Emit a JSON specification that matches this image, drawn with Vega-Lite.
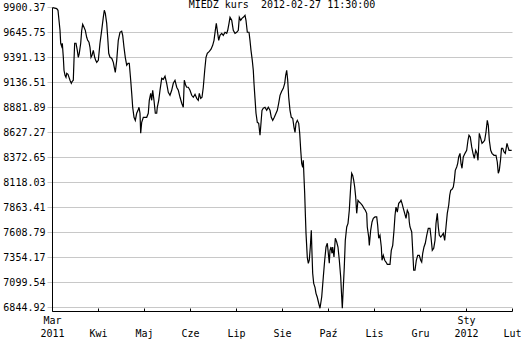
{
  "$schema": "https://vega.github.io/schema/vega-lite/v6.json",
  "width": 460,
  "height": 304,
  "autosize": {"type": "none"},
  "padding": {"left": 52, "top": 7, "right": 9, "bottom": 31},
  "background": "white",
  "title": {
    "text": "MIEDZ kurs \u00a02012-02-27 11:30:00",
    "font": "DejaVu Sans Mono",
    "fontSize": 10,
    "fontWeight": "normal",
    "color": "black",
    "anchor": "middle",
    "baseline": "alphabetic",
    "offset": -16
  },
  "config": {
    "view": {"stroke": null},
    "axis": {"labelFont": "DejaVu Sans Mono", "labelFontSize": 10, "labelColor": "black", "titleFont": "DejaVu Sans Mono"}
  },
  "data": {
    "values": [
      {"t": 0.015, "v": 9894}, {"t": 0.102, "v": 9884}, {"t": 0.130, "v": 9867}, {"t": 0.174, "v": 9663},
      {"t": 0.189, "v": 9531}, {"t": 0.211, "v": 9500}, {"t": 0.224, "v": 9531}, {"t": 0.246, "v": 9388},
      {"t": 0.261, "v": 9256}, {"t": 0.283, "v": 9205}, {"t": 0.304, "v": 9184}, {"t": 0.320, "v": 9225},
      {"t": 0.348, "v": 9215}, {"t": 0.370, "v": 9184}, {"t": 0.391, "v": 9154}, {"t": 0.420, "v": 9123},
      {"t": 0.441, "v": 9144}, {"t": 0.463, "v": 9154}, {"t": 0.478, "v": 9357}, {"t": 0.493, "v": 9531},
      {"t": 0.522, "v": 9531}, {"t": 0.550, "v": 9459}, {"t": 0.572, "v": 9388}, {"t": 0.593, "v": 9429},
      {"t": 0.624, "v": 9531}, {"t": 0.646, "v": 9663}, {"t": 0.667, "v": 9724}, {"t": 0.696, "v": 9694},
      {"t": 0.724, "v": 9663}, {"t": 0.754, "v": 9592}, {"t": 0.776, "v": 9561}, {"t": 0.804, "v": 9541},
      {"t": 0.826, "v": 9490}, {"t": 0.848, "v": 9388}, {"t": 0.870, "v": 9408}, {"t": 0.898, "v": 9459},
      {"t": 0.928, "v": 9388}, {"t": 0.950, "v": 9357}, {"t": 0.972, "v": 9337}, {"t": 1.007, "v": 9357},
      {"t": 1.043, "v": 9531}, {"t": 1.080, "v": 9663}, {"t": 1.115, "v": 9795}, {"t": 1.137, "v": 9867},
      {"t": 1.159, "v": 9836}, {"t": 1.189, "v": 9734}, {"t": 1.211, "v": 9592}, {"t": 1.233, "v": 9429},
      {"t": 1.261, "v": 9388}, {"t": 1.298, "v": 9378}, {"t": 1.333, "v": 9337}, {"t": 1.354, "v": 9286},
      {"t": 1.376, "v": 9235}, {"t": 1.407, "v": 9357}, {"t": 1.441, "v": 9561}, {"t": 1.478, "v": 9643},
      {"t": 1.515, "v": 9653}, {"t": 1.537, "v": 9612}, {"t": 1.565, "v": 9490}, {"t": 1.593, "v": 9388},
      {"t": 1.624, "v": 9307}, {"t": 1.652, "v": 9327}, {"t": 1.680, "v": 9327}, {"t": 1.711, "v": 9154},
      {"t": 1.733, "v": 9021}, {"t": 1.754, "v": 8879}, {"t": 1.783, "v": 8777}, {"t": 1.811, "v": 8746},
      {"t": 1.841, "v": 8818}, {"t": 1.870, "v": 8848}, {"t": 1.891, "v": 8879}, {"t": 1.913, "v": 8818},
      {"t": 1.928, "v": 8614}, {"t": 1.950, "v": 8726}, {"t": 1.985, "v": 8777}, {"t": 2.059, "v": 8777},
      {"t": 2.093, "v": 8818}, {"t": 2.115, "v": 8950}, {"t": 2.146, "v": 9021}, {"t": 2.167, "v": 8950},
      {"t": 2.189, "v": 9052}, {"t": 2.217, "v": 8950}, {"t": 2.246, "v": 8818}, {"t": 2.276, "v": 8818},
      {"t": 2.289, "v": 8879}, {"t": 2.320, "v": 8950}, {"t": 2.348, "v": 9052}, {"t": 2.385, "v": 9174},
      {"t": 2.420, "v": 9164}, {"t": 2.457, "v": 9195}, {"t": 2.493, "v": 9123}, {"t": 2.528, "v": 9032},
      {"t": 2.565, "v": 9001}, {"t": 2.602, "v": 9052}, {"t": 2.637, "v": 9123}, {"t": 2.674, "v": 9154},
      {"t": 2.711, "v": 9083}, {"t": 2.746, "v": 9052}, {"t": 2.783, "v": 8981}, {"t": 2.820, "v": 8920},
      {"t": 2.854, "v": 8879}, {"t": 2.876, "v": 9154}, {"t": 2.907, "v": 9103}, {"t": 2.928, "v": 9083},
      {"t": 2.963, "v": 9083}, {"t": 3.000, "v": 9052}, {"t": 3.037, "v": 9001}, {"t": 3.072, "v": 8981},
      {"t": 3.109, "v": 9011}, {"t": 3.146, "v": 8970}, {"t": 3.180, "v": 8950}, {"t": 3.202, "v": 9021},
      {"t": 3.233, "v": 8970}, {"t": 3.261, "v": 8981}, {"t": 3.289, "v": 9083}, {"t": 3.320, "v": 9256},
      {"t": 3.348, "v": 9388}, {"t": 3.376, "v": 9429}, {"t": 3.420, "v": 9449}, {"t": 3.457, "v": 9470},
      {"t": 3.493, "v": 9510}, {"t": 3.522, "v": 9561}, {"t": 3.550, "v": 9663}, {"t": 3.572, "v": 9734},
      {"t": 3.593, "v": 9663}, {"t": 3.624, "v": 9561}, {"t": 3.652, "v": 9612}, {"t": 3.689, "v": 9632},
      {"t": 3.724, "v": 9612}, {"t": 3.761, "v": 9643}, {"t": 3.798, "v": 9632}, {"t": 3.820, "v": 9663},
      {"t": 3.848, "v": 9734}, {"t": 3.870, "v": 9795}, {"t": 3.907, "v": 9765}, {"t": 3.941, "v": 9663},
      {"t": 3.978, "v": 9632}, {"t": 4.015, "v": 9643}, {"t": 4.050, "v": 9663}, {"t": 4.072, "v": 9795},
      {"t": 4.102, "v": 9765}, {"t": 4.130, "v": 9785}, {"t": 4.159, "v": 9795}, {"t": 4.196, "v": 9816},
      {"t": 4.217, "v": 9765}, {"t": 4.246, "v": 9643}, {"t": 4.283, "v": 9643}, {"t": 4.304, "v": 9561},
      {"t": 4.326, "v": 9459}, {"t": 4.354, "v": 9357}, {"t": 4.376, "v": 9256}, {"t": 4.391, "v": 9123},
      {"t": 4.413, "v": 8970}, {"t": 4.435, "v": 8818}, {"t": 4.463, "v": 8726}, {"t": 4.493, "v": 8716},
      {"t": 4.522, "v": 8594}, {"t": 4.543, "v": 8716}, {"t": 4.565, "v": 8848}, {"t": 4.593, "v": 8869},
      {"t": 4.630, "v": 8879}, {"t": 4.667, "v": 8848}, {"t": 4.702, "v": 8879}, {"t": 4.739, "v": 8848},
      {"t": 4.767, "v": 8777}, {"t": 4.798, "v": 8746}, {"t": 4.833, "v": 8777}, {"t": 4.870, "v": 8818},
      {"t": 4.898, "v": 8848}, {"t": 4.928, "v": 8920}, {"t": 4.957, "v": 9001}, {"t": 4.993, "v": 9042},
      {"t": 5.028, "v": 9072}, {"t": 5.059, "v": 9123}, {"t": 5.080, "v": 9205}, {"t": 5.102, "v": 9256},
      {"t": 5.124, "v": 9154}, {"t": 5.146, "v": 8981}, {"t": 5.174, "v": 8848}, {"t": 5.202, "v": 8777},
      {"t": 5.233, "v": 8767}, {"t": 5.261, "v": 8675}, {"t": 5.283, "v": 8624}, {"t": 5.304, "v": 8716},
      {"t": 5.333, "v": 8746}, {"t": 5.363, "v": 8716}, {"t": 5.385, "v": 8614}, {"t": 5.407, "v": 8441},
      {"t": 5.428, "v": 8308}, {"t": 5.450, "v": 8268}, {"t": 5.463, "v": 8339}, {"t": 5.478, "v": 8166},
      {"t": 5.493, "v": 8003}, {"t": 5.507, "v": 7799}, {"t": 5.522, "v": 7595}, {"t": 5.550, "v": 7351},
      {"t": 5.572, "v": 7290}, {"t": 5.593, "v": 7321}, {"t": 5.615, "v": 7453}, {"t": 5.637, "v": 7626},
      {"t": 5.652, "v": 7392}, {"t": 5.667, "v": 7188}, {"t": 5.689, "v": 7086}, {"t": 5.717, "v": 7045},
      {"t": 5.739, "v": 6984}, {"t": 5.767, "v": 6944}, {"t": 5.798, "v": 6883}, {"t": 5.826, "v": 6832},
      {"t": 5.863, "v": 6947}, {"t": 5.898, "v": 7150}, {"t": 5.928, "v": 7321}, {"t": 5.957, "v": 7456},
      {"t": 5.985, "v": 7494}, {"t": 6.015, "v": 7354}, {"t": 6.028, "v": 7290}, {"t": 6.043, "v": 7422},
      {"t": 6.065, "v": 7456}, {"t": 6.087, "v": 7392}, {"t": 6.102, "v": 7456}, {"t": 6.130, "v": 7354},
      {"t": 6.159, "v": 7545}, {"t": 6.189, "v": 7507}, {"t": 6.217, "v": 7456}, {"t": 6.246, "v": 7321},
      {"t": 6.276, "v": 7150}, {"t": 6.298, "v": 6947}, {"t": 6.311, "v": 6832}, {"t": 6.333, "v": 7049},
      {"t": 6.354, "v": 7252}, {"t": 6.376, "v": 7524}, {"t": 6.407, "v": 7660}, {"t": 6.435, "v": 7697},
      {"t": 6.463, "v": 7830}, {"t": 6.493, "v": 8067}, {"t": 6.515, "v": 8207}, {"t": 6.537, "v": 8186},
      {"t": 6.559, "v": 8135}, {"t": 6.580, "v": 8067}, {"t": 6.602, "v": 7965}, {"t": 6.624, "v": 7799},
      {"t": 6.652, "v": 7932}, {"t": 6.680, "v": 7914}, {"t": 6.711, "v": 7901}, {"t": 6.746, "v": 7881},
      {"t": 6.783, "v": 7850}, {"t": 6.811, "v": 7830}, {"t": 6.841, "v": 7799}, {"t": 6.854, "v": 7660},
      {"t": 6.885, "v": 7558}, {"t": 6.898, "v": 7473}, {"t": 6.928, "v": 7626}, {"t": 6.957, "v": 7711},
      {"t": 6.985, "v": 7748}, {"t": 7.022, "v": 7762}, {"t": 7.059, "v": 7762}, {"t": 7.080, "v": 7677},
      {"t": 7.102, "v": 7545}, {"t": 7.130, "v": 7575}, {"t": 7.159, "v": 7456}, {"t": 7.174, "v": 7321},
      {"t": 7.202, "v": 7371}, {"t": 7.233, "v": 7321}, {"t": 7.261, "v": 7303}, {"t": 7.289, "v": 7280},
      {"t": 7.348, "v": 7280}, {"t": 7.376, "v": 7422}, {"t": 7.407, "v": 7473}, {"t": 7.435, "v": 7626},
      {"t": 7.457, "v": 7779}, {"t": 7.478, "v": 7863}, {"t": 7.507, "v": 7812}, {"t": 7.537, "v": 7901},
      {"t": 7.565, "v": 7914}, {"t": 7.587, "v": 7932}, {"t": 7.609, "v": 7901}, {"t": 7.637, "v": 7850},
      {"t": 7.667, "v": 7799}, {"t": 7.696, "v": 7748}, {"t": 7.724, "v": 7830}, {"t": 7.754, "v": 7799},
      {"t": 7.767, "v": 7711}, {"t": 7.783, "v": 7660}, {"t": 7.820, "v": 7609}, {"t": 7.841, "v": 7422},
      {"t": 7.863, "v": 7219}, {"t": 7.891, "v": 7219}, {"t": 7.920, "v": 7321}, {"t": 7.950, "v": 7371},
      {"t": 7.985, "v": 7371}, {"t": 8.015, "v": 7321}, {"t": 8.037, "v": 7303}, {"t": 8.059, "v": 7392},
      {"t": 8.087, "v": 7456}, {"t": 8.115, "v": 7494}, {"t": 8.146, "v": 7575}, {"t": 8.180, "v": 7646},
      {"t": 8.217, "v": 7646}, {"t": 8.239, "v": 7558}, {"t": 8.267, "v": 7422}, {"t": 8.298, "v": 7443},
      {"t": 8.326, "v": 7524}, {"t": 8.348, "v": 7697}, {"t": 8.376, "v": 7799}, {"t": 8.398, "v": 7660},
      {"t": 8.420, "v": 7575}, {"t": 8.450, "v": 7558}, {"t": 8.478, "v": 7575}, {"t": 8.507, "v": 7595},
      {"t": 8.537, "v": 7524}, {"t": 8.565, "v": 7660}, {"t": 8.593, "v": 7799}, {"t": 8.624, "v": 7881},
      {"t": 8.646, "v": 7983}, {"t": 8.667, "v": 8033}, {"t": 8.696, "v": 8044}, {"t": 8.724, "v": 8067},
      {"t": 8.746, "v": 8135}, {"t": 8.767, "v": 8237}, {"t": 8.798, "v": 8271}, {"t": 8.820, "v": 8308},
      {"t": 8.841, "v": 8373}, {"t": 8.870, "v": 8410}, {"t": 8.891, "v": 8308}, {"t": 8.913, "v": 8258},
      {"t": 8.941, "v": 8373}, {"t": 8.978, "v": 8410}, {"t": 9.015, "v": 8441}, {"t": 9.043, "v": 8543},
      {"t": 9.065, "v": 8594}, {"t": 9.093, "v": 8576}, {"t": 9.124, "v": 8475}, {"t": 9.152, "v": 8410},
      {"t": 9.180, "v": 8359}, {"t": 9.211, "v": 8441}, {"t": 9.239, "v": 8410}, {"t": 9.261, "v": 8339},
      {"t": 9.289, "v": 8614}, {"t": 9.320, "v": 8563}, {"t": 9.348, "v": 8512}, {"t": 9.376, "v": 8525},
      {"t": 9.406, "v": 8543}, {"t": 9.435, "v": 8627}, {"t": 9.463, "v": 8746}, {"t": 9.485, "v": 8695},
      {"t": 9.507, "v": 8543}, {"t": 9.537, "v": 8441}, {"t": 9.565, "v": 8410}, {"t": 9.609, "v": 8390},
      {"t": 9.652, "v": 8390}, {"t": 9.680, "v": 8322}, {"t": 9.702, "v": 8207}, {"t": 9.724, "v": 8237},
      {"t": 9.750, "v": 8339}, {"t": 9.772, "v": 8461}, {"t": 9.798, "v": 8461}, {"t": 9.826, "v": 8424},
      {"t": 9.854, "v": 8410}, {"t": 9.891, "v": 8512}, {"t": 9.913, "v": 8475}, {"t": 9.935, "v": 8441},
      {"t": 9.993, "v": 8441}
    ]
  },
  "mark": {"type": "line", "color": "black", "strokeWidth": 1.2, "interpolate": "linear", "clip": false},
  "encoding": {
    "x": {
      "field": "t",
      "type": "quantitative",
      "scale": {"domain": [0, 10], "nice": false, "zero": false},
      "axis": {
        "title": null,
        "values": [0, 1, 2, 3, 4, 5, 6, 7, 8, 9, 10],
        "grid": false,
        "domainColor": "black",
        "domainWidth": 1,
        "tickColor": "black",
        "tickSize": -3,
        "labelPadding": 7,
        "labelFlush": false,
        "labelOverlap": false,
        "labelBound": false,
        "labelLineHeight": 13,
        "labelExpr": "datum.value == 0 ? ['Mar', '2011'] : datum.value == 9 ? ['Sty', '2012'] : ['', ['Mar','Kwi','Maj','Cze','Lip','Sie','Paź','Lis','Gru','Sty','Lut'][datum.value]]"
      }
    },
    "y": {
      "field": "v",
      "type": "quantitative",
      "scale": {"domain": [6804.2, 9900.37], "nice": false, "zero": false},
      "axis": {
        "title": null,
        "values": [6844.92, 7099.54, 7354.17, 7608.79, 7863.41, 8118.03, 8372.65, 8627.27, 8881.89, 9136.51, 9391.13, 9645.75, 9900.37],
        "format": ".2f",
        "grid": true,
        "gridColor": "#c8c8c8",
        "gridWidth": 1,
        "gridOpacity": {"condition": {"test": "datum.value > 9900", "value": 0}, "value": 1},
        "domainColor": "black",
        "domainWidth": 1,
        "tickColor": "#c8c8c8",
        "tickSize": 5,
        "labelPadding": 2,
        "labelOverlap": false,
        "labelBound": false,
        "labelFlush": false
      }
    }
  }
}
